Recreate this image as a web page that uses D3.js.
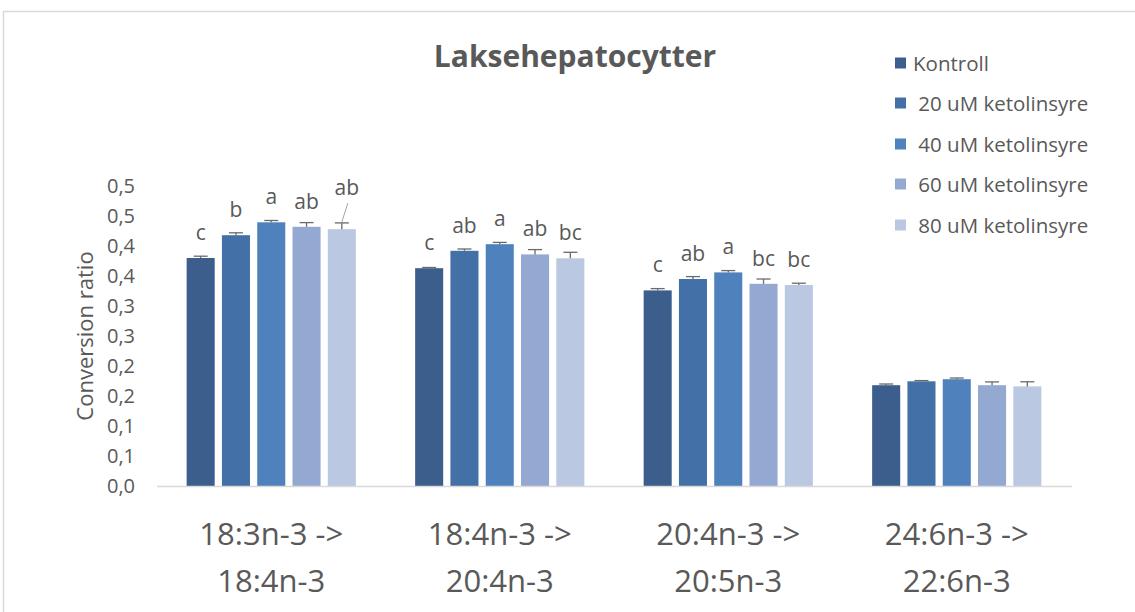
<!DOCTYPE html>
<html><head><meta charset="utf-8">
<script src="https://cdn.jsdelivr.net/npm/d3@7/dist/d3.min.js"></script>
<style>
html,body{margin:0;padding:0;background:#fff;}
svg text{font-family:"Open Sans",sans-serif;fill:#595959;}
</style></head>
<body>
<svg id="chart" width="1135" height="612"></svg>
<script>
const catLine1 = ["18:3n-3 ->", "18:4n-3 ->", "20:4n-3 ->", "24:6n-3 ->"];
const catLine2 = ["18:4n-3", "20:4n-3", "20:5n-3", "22:6n-3"];
const seriesNames = ["Kontroll", " 20 uM ketolinsyre", " 40 uM ketolinsyre", " 60 uM ketolinsyre", " 80 uM ketolinsyre"];
const colors = ["#3b5e8c", "#4370a6", "#4f81bd", "#94a9d1", "#bac8e2"];
const kontroll = [0.380, 0.363, 0.326, 0.168];
const uM20 = [0.418, 0.392, 0.345, 0.1745];
const uM40 = [0.4395, 0.403, 0.356, 0.178];
const uM60 = [0.432, 0.386, 0.337, 0.168];
const uM80 = [0.428, 0.3795, 0.335, 0.166];
const errKontroll = [0.003, 0.0012, 0.003, 0.002];
const err20 = [0.004, 0.003, 0.004, 0.0012];
const err40 = [0.003, 0.003, 0.003, 0.002];
const err60 = [0.007, 0.008, 0.008, 0.0055];
const err80 = [0.0105, 0.010, 0.003, 0.0077];
const lettersKontroll = ["c", "c", "c", ""];
const letters20 = ["b", "ab", "ab", ""];
const letters40 = ["a", "a", "a", ""];
const letters60 = ["ab", "ab", "bc", ""];
const letters80 = ["ab", "bc", "bc", ""];
const yTickValues = [0, 0.05, 0.1, 0.15, 0.2, 0.25, 0.3, 0.35, 0.4, 0.45, 0.5];
const yTickLabels = ["0,0", "0,1", "0,1", "0,2", "0,2", "0,3", "0,3", "0,4", "0,4", "0,5", "0,5"];
const titleText = "Laksehepatocytter";
const yAxisTitle = "Conversion ratio";

const values = [kontroll, uM20, uM40, uM60, uM80];
const errors = [errKontroll, err20, err40, err60, err80];
const letters = [lettersKontroll, letters20, letters40, letters60, letters80];

const svg = d3.select("#chart");
const plotLeft = 157, plotRight = 1071, plotTop = 186, plotBottom = 486;

// chart border
svg.append("path").attr("d", "M3.5,612 L3.5,11.5 L1135,11.5")
  .attr("fill", "none").attr("stroke", "#d9d9d9").attr("stroke-width", 1.5);

const x0 = d3.scaleBand().domain(d3.range(catLine1.length)).range([plotLeft, plotRight]);
const x1 = d3.scaleBand().domain(d3.range(seriesNames.length)).range([0, x0.bandwidth()])
  .paddingInner(0.205).paddingOuter(0.84);
const y = d3.scaleLinear().domain([0, 0.5]).range([plotBottom, plotTop]);

// title
svg.append("text").attr("x", 575).attr("y", 67).attr("text-anchor", "middle")
  .style("font-size", "30px").style("font-weight", "bold").text(titleText);

// y axis labels
const yAxis = d3.axisLeft(y).tickValues(yTickValues).tickSize(0).tickPadding(22)
  .tickFormat((d, i) => yTickLabels[i]);
const gy = svg.append("g").attr("transform", `translate(${plotLeft},0)`).call(yAxis);
gy.select(".domain").remove();
gy.selectAll("text").style("font-size", "20px").style("font-family", "'Open Sans',sans-serif").attr("fill", "#595959");

svg.append("text").attr("transform", `translate(84,${(plotTop + plotBottom) / 2}) rotate(-90)`)
  .attr("text-anchor", "middle").attr("dominant-baseline", "central")
  .style("font-size", "22px").text(yAxisTitle);

// bars
values.forEach((vals, s) => {
  const g = svg.append("g");
  g.selectAll("rect").data(vals).join("rect")
    .attr("x", (d, i) => x0(i) + x1(s))
    .attr("y", d => y(d))
    .attr("width", x1.bandwidth())
    .attr("height", d => y(0) - y(d))
    .attr("fill", colors[s]);
  const eg = svg.append("g").attr("stroke", "#6a6a6a").attr("stroke-width", 1.3);
  vals.forEach((d, i) => {
    const cx = x0(i) + x1(s) + x1.bandwidth() / 2;
    const yt = y(d + errors[s][i]);
    eg.append("line").attr("x1", cx).attr("x2", cx).attr("y1", y(d)).attr("y2", yt);
    eg.append("line").attr("x1", cx - 7).attr("x2", cx + 7).attr("y1", yt).attr("y2", yt);
  });
  vals.forEach((d, i) => {
    if (!letters[s][i]) return;
    const cx = x0(i) + x1(s) + x1.bandwidth() / 2;
    let lx = cx, ly = y(d) - 18;
    const moved = (s === 4 && i === 0);
    if (moved) {
      lx = cx + 5; ly = y(d) - 34;
      svg.append("line").attr("x1", lx + 1).attr("y1", ly + 8).attr("x2", cx).attr("y2", y(d + errors[s][i]) - 1)
        .attr("stroke", "#a6a6a6").attr("stroke-width", 1);
    }
    svg.append("text").attr("x", lx).attr("y", ly).attr("text-anchor", "middle")
      .style("font-size", "21px").text(letters[s][i]);
  });
});

// x axis line
svg.append("line").attr("x1", plotLeft).attr("x2", plotRight + 1).attr("y1", plotBottom + 0.5).attr("y2", plotBottom + 0.5)
  .attr("stroke", "#d9d9d9").attr("stroke-width", 1.5);

// x labels
catLine1.forEach((c, i) => {
  const cx = x0(i) + x0.bandwidth() / 2;
  svg.append("text").attr("x", cx).attr("y", 545).attr("text-anchor", "middle").style("font-size", "31px").text(c);
  svg.append("text").attr("x", cx).attr("y", 592).attr("text-anchor", "middle").style("font-size", "31px").text(catLine2[i]);
});

// legend
const legRows = [63, 103, 144, 184, 225];
seriesNames.forEach((n, s) => {
  svg.append("rect").attr("x", 895).attr("y", legRows[s] - 5.5).attr("width", 11).attr("height", 11).attr("fill", colors[s]);
  svg.append("text").attr("x", 913).attr("y", legRows[s]).attr("dominant-baseline", "central")
    .attr("xml:space", "preserve").style("white-space", "pre")
    .style("font-size", "20.5px").text(n);
});
</script>
</body></html>
